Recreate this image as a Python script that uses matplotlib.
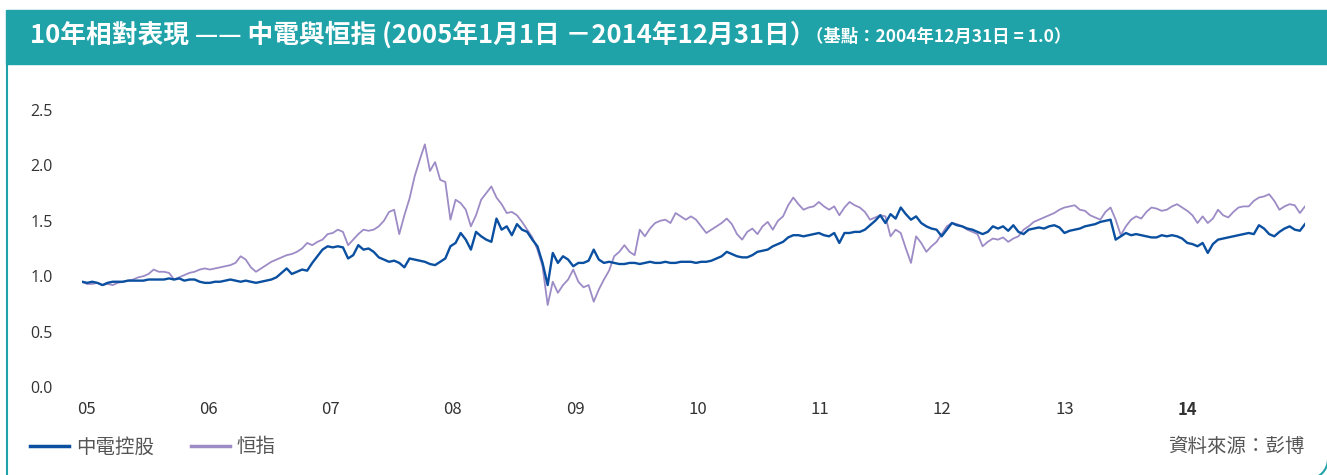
import numpy as np
import pandas as pd
import matplotlib
matplotlib.use("Agg")
import matplotlib.pyplot as plt
from matplotlib.transforms import ScaledTranslation, IdentityTransform
from matplotlib.patches import Rectangle, Arc
from matplotlib.lines import Line2D

plt.rcParams['font.family'] = ['Noto Sans CJK TC', 'DejaVu Sans']

# semi-monthly readings, Jan 2005 - Dec 2014 (base 2004-12-31 = 1.0)
clp = [
    0.95, 0.94, 0.95, 0.94, 0.92, 0.94, 0.95, 0.95, 0.95, 0.96, 0.96, 0.96,
    0.96, 0.97, 0.97, 0.97, 0.97, 0.98, 0.97, 0.98, 0.96, 0.97, 0.97, 0.95,
    0.94, 0.94, 0.95, 0.95, 0.96, 0.97, 0.96, 0.95, 0.96, 0.95, 0.94, 0.95,
    0.96, 0.97, 0.99, 1.03, 1.07, 1.02, 1.04, 1.06, 1.05, 1.12, 1.18, 1.24,
    1.27, 1.26, 1.27, 1.26, 1.16, 1.19, 1.28, 1.24, 1.25, 1.22, 1.17, 1.15,
    1.13, 1.14, 1.12, 1.08, 1.16, 1.15, 1.14, 1.13, 1.11, 1.10, 1.13, 1.16,
    1.27, 1.30, 1.39, 1.33, 1.24, 1.40, 1.36, 1.33, 1.31, 1.52, 1.42, 1.45,
    1.37, 1.47, 1.42, 1.40, 1.33, 1.27, 1.12, 0.92, 1.21, 1.12, 1.18, 1.15,
    1.09, 1.12, 1.12, 1.14, 1.24, 1.15, 1.12, 1.13, 1.12, 1.11, 1.11, 1.12,
    1.12, 1.11, 1.12, 1.13, 1.12, 1.12, 1.13, 1.12, 1.12, 1.13, 1.13, 1.13,
    1.12, 1.13, 1.13, 1.14, 1.16, 1.18, 1.22, 1.20, 1.18, 1.17, 1.17, 1.19,
    1.22, 1.23, 1.24, 1.27, 1.29, 1.31, 1.35, 1.37, 1.37, 1.36, 1.37, 1.38,
    1.39, 1.37, 1.36, 1.39, 1.30, 1.39, 1.39, 1.40, 1.40, 1.42, 1.46, 1.50,
    1.55, 1.48, 1.56, 1.52, 1.62, 1.56, 1.51, 1.54, 1.48, 1.45, 1.43, 1.42,
    1.36, 1.42, 1.48, 1.46, 1.45, 1.43, 1.42, 1.40, 1.38, 1.40, 1.45, 1.43,
    1.45, 1.41, 1.46, 1.40, 1.38, 1.42, 1.43, 1.44, 1.43, 1.45, 1.46, 1.44,
    1.39, 1.41, 1.42, 1.43, 1.45, 1.46, 1.47, 1.49, 1.50, 1.51, 1.33, 1.36,
    1.39, 1.37, 1.38, 1.37, 1.36, 1.35, 1.35, 1.37, 1.36, 1.37, 1.36, 1.34,
    1.30, 1.29, 1.27, 1.30, 1.21, 1.29, 1.33, 1.34, 1.35, 1.36, 1.37, 1.38,
    1.39, 1.38, 1.46, 1.43, 1.38, 1.36, 1.40, 1.43, 1.45, 1.42, 1.41, 1.47,
]
hsi = [
    0.95, 0.93, 0.93, 0.94, 0.92, 0.93, 0.92, 0.94, 0.95, 0.96, 0.97, 0.99,
    1.00, 1.02, 1.06, 1.04, 1.04, 1.03, 0.97, 0.99, 1.01, 1.03, 1.04, 1.06,
    1.07, 1.06, 1.07, 1.08, 1.09, 1.10, 1.12, 1.18, 1.15, 1.08, 1.04, 1.07,
    1.10, 1.13, 1.15, 1.17, 1.19, 1.20, 1.22, 1.25, 1.30, 1.28, 1.31, 1.33,
    1.38, 1.39, 1.42, 1.40, 1.28, 1.33, 1.38, 1.42, 1.41, 1.42, 1.45, 1.50,
    1.58, 1.60, 1.38, 1.55, 1.70, 1.90, 2.05, 2.19, 1.95, 2.03, 1.87, 1.85,
    1.51, 1.69, 1.66, 1.60, 1.45, 1.55, 1.69, 1.75, 1.81, 1.71, 1.65, 1.57,
    1.58, 1.55, 1.49, 1.42, 1.35, 1.24, 1.09, 0.74, 0.95, 0.85, 0.92, 0.97,
    1.06, 0.95, 0.90, 0.92, 0.77, 0.88, 0.97, 1.05, 1.18, 1.22, 1.28, 1.22,
    1.19, 1.42, 1.36, 1.43, 1.48, 1.50, 1.51, 1.48, 1.57, 1.54, 1.51, 1.54,
    1.51, 1.45, 1.39, 1.42, 1.45, 1.48, 1.52, 1.47, 1.38, 1.33, 1.40, 1.43,
    1.38, 1.45, 1.49, 1.42, 1.50, 1.54, 1.64, 1.71, 1.65, 1.60, 1.62, 1.63,
    1.67, 1.63, 1.60, 1.63, 1.55, 1.62, 1.67, 1.64, 1.62, 1.58, 1.51, 1.53,
    1.55, 1.54, 1.36, 1.42, 1.39, 1.25, 1.12, 1.36, 1.30, 1.22, 1.27, 1.31,
    1.38, 1.45, 1.48, 1.47, 1.45, 1.42, 1.40, 1.38, 1.27, 1.31, 1.34, 1.33,
    1.35, 1.31, 1.34, 1.36, 1.42, 1.45, 1.49, 1.51, 1.53, 1.55, 1.57, 1.60,
    1.62, 1.63, 1.64, 1.60, 1.59, 1.55, 1.53, 1.51, 1.58, 1.62, 1.51, 1.37,
    1.45, 1.51, 1.54, 1.52, 1.58, 1.62, 1.61, 1.59, 1.60, 1.63, 1.65, 1.62,
    1.59, 1.55, 1.48, 1.54, 1.48, 1.52, 1.60, 1.55, 1.53, 1.58, 1.62, 1.63,
    1.63, 1.68, 1.71, 1.72, 1.74, 1.68, 1.60, 1.63, 1.65, 1.64, 1.57, 1.63,
]
dates = pd.date_range('2005-01-01', '2014-12-31', periods=len(clp))
year_ticks = pd.date_range('2005-01-01', '2014-01-01', freq='YS')
year_labels = ['05', '06', '07', '08', '09', '10', '11', '12', '13', '14']
y_ticks = [0.0, 0.5, 1.0, 1.5, 2.0, 2.5]
series_names = ['中電控股', '恒指']

W, H = 1327, 475
teal = '#1fa3a9'
blue = '#0a4fa0'
purple = '#9d8bc6'

fig = plt.figure(figsize=(W / 100, H / 100), dpi=100)

def px(x0, y0, x1, y1):
    # pixel box (top-left origin) -> figure fraction [l, b, w, h]
    return [x0 / W, 1 - y1 / H, (x1 - x0) / W, (y1 - y0) / H]

# title bar and frame
fig.patches.append(Rectangle((6 / W, 1 - 64 / H), 1, 54 / H, transform=fig.transFigure,
                             color=teal, zorder=0))
fig.add_artist(Line2D([6.5 / W, 6.5 / W], [0, 1 - 64 / H], color=teal, lw=1.5))
fig.add_artist(Arc((1308, H - 459), 40, 40, theta1=270, theta2=360, color=teal, lw=1.5,
                   transform=IdentityTransform()))

fig.text(30 / W, 1 - 35 / H, '10年相對表現 —— 中電與恒指 (2005年1月1日 －2014年12月31日）',
         color='white', fontsize=18.5, fontweight='bold', va='center')
fig.text(806 / W, 1 - 37 / H, '（基點：2004年12月31日 = 1.0）',
         color='white', fontsize=12.5, fontweight='bold', va='center')

ax = fig.add_axes(px(82, 110, 1305, 387))
ax.plot(dates, hsi, color=purple, lw=1.3, label=series_names[1])
ax.plot(dates, clp, color=blue, lw=1.7, label=series_names[0])
ax.set_xlim(dates[0], dates[-1])
ax.set_ylim(0, 2.5)
for s in ax.spines.values():
    s.set_visible(False)
ax.set_yticks(y_ticks)
ax.set_yticklabels([f'{v:.1f}' for v in y_ticks], fontsize=11.5, color='#333333',
                   family=['Open Sans', 'DejaVu Sans'])
ax.set_xticks(year_ticks)
ax.set_xticklabels(year_labels, fontsize=12, color='#333333')
ax.get_xticklabels()[-1].set_fontweight('bold')
ax.tick_params(axis='y', length=0, pad=21)
ax.tick_params(axis='x', length=0, pad=10)
off = ScaledTranslation(4 / 100, 0, fig.dpi_scale_trans)
for lab in ax.get_xticklabels():
    lab.set_transform(lab.get_transform() + off)

# legend
handles = [Line2D([], [], color=blue, lw=2.5), Line2D([], [], color=purple, lw=2.5)]
leg = fig.legend(handles, series_names, loc='center left', bbox_to_anchor=(30 / W, 1 - 447 / H),
                 ncol=2, frameon=False, fontsize=14, handlelength=2.0, handletextpad=0.35,
                 columnspacing=1.9, borderaxespad=0, borderpad=0)
for t in leg.get_texts():
    t.set_color('#555555')

fig.text(1305 / W, 1 - 447 / H, '資料來源：彭博', ha='right', va='center',
         fontsize=14, color='#555555')

fig.savefig('out.png', dpi=100)
